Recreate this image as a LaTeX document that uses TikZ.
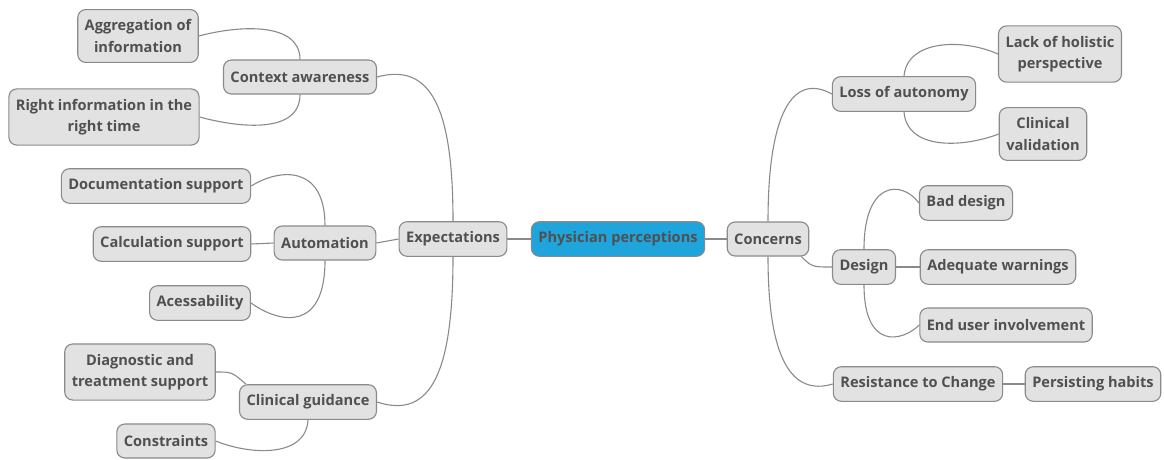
\documentclass[tikz,border=0pt]{standalone}
\usepackage{fontspec}
\setmainfont{Open Sans}
\definecolor{boxfill}{HTML}{E2E2E2}
\definecolor{boxline}{HTML}{8A8A8A}
\definecolor{txt}{HTML}{505050}
\definecolor{rootfill}{HTML}{1FA5DB}
\definecolor{wire}{HTML}{8A8A8A}
\begin{document}
\begin{tikzpicture}[x=1pt,y=-1pt,
  box/.style={draw=boxline, fill=boxfill, line width=1.1pt, rounded corners=8pt,
    minimum height=34pt, inner xsep=7pt, inner ysep=10pt, align=center,
    text=txt, font=\fontsize{14.6}{21.5}\selectfont\bfseries},
  rootbox/.style={box, fill=rootfill},
  wire/.style={draw=wire, line width=1.1pt}]
\useasboundingbox (0,0) rectangle (1164,459);

\node[rootbox] (pp) at (618,239) {Physician perceptions};
\node[box] (exp) at (453,239) {Expectations};
\node[box] (conc) at (768,239) {Concerns};

\node[box] (ca) at (300,77) {Context awareness};
\node[box] (agg) at (138,36) {Aggregation of\\information};
\node[box] (ri) at (104,117) {Right information in the\\right time};

\node[box] (auto) at (325,243) {Automation};
\node[box] (doc) at (156,186) {Documentation support};
\node[box] (calc) at (172,244) {Calculation support};
\node[box] (acc) at (200,303) {Acessability};

\node[box] (cg) at (308,402) {Clinical guidance};
\node[box] (diag) at (140,372) {Diagnostic and\\treatment support};
\node[box] (con) at (166,441) {Constraints};

\node[box] (loss) at (904,94) {Loss of autonomy};
\node[box] (lack) at (1060,54) {Lack of holistic\\perspective};
\node[box] (cv) at (1043,134) {Clinical\\validation};

\node[box] (des) at (864,267) {Design};
\node[box] (bad) at (966,203) {Bad design};
\node[box] (adq) at (998,267) {Adequate warnings};
\node[box] (end) at (1006,325) {End user involvement};

\node[box] (res) at (918,384) {Resistance to Change};
\node[box] (hab) at (1093,384) {Persisting habits};

% connectors
\path[wire] (pp.west) -- (exp.east);
\path[wire] (pp.east) -- (conc.west);

\path[wire] (exp.north) .. controls (453,110) and (432,62) .. (ca.east);
\path[wire] (exp.west) -- (auto.east);
\path[wire] (exp.south) .. controls (453,370) and (432,420) .. (cg.east);

\path[wire] (ca.north) .. controls (300,22) and (240,25) .. (agg.east);
\path[wire] (ca.south) .. controls (300,134) and (240,128) .. (ri.east);

\path[wire] (auto.north) .. controls (325,165) and (280,168) .. (doc.east);
\path[wire] (auto.west) -- (calc.east);
\path[wire] (auto.south) .. controls (325,330) and (282,325) .. (acc.east);

\path[wire] (diag.east) .. controls (232,372) .. ([xshift=7pt]cg.north west);
\path[wire] (cg.south) .. controls (306,458) and (250,455) .. (con.east);

\path[wire] (conc.north) .. controls (768,115) and (792,72) .. (loss.west);
\path[wire] ([xshift=-8pt]conc.south east) .. controls (812,267) .. (des.west);
\path[wire] (conc.south) .. controls (768,360) and (792,396) .. (res.west);

\path[wire] (loss.north) .. controls (907,40) and (962,38) .. (lack.west);
\path[wire] (loss.south) .. controls (907,150) and (962,148) .. (cv.west);

\path[wire] (des.north) .. controls (864,180) and (902,180) .. (bad.west);
\path[wire] (des.east) -- (adq.west);
\path[wire] (des.south) .. controls (864,350) and (902,342) .. (end.west);

\path[wire] (res.east) -- (hab.west);
\end{tikzpicture}
\end{document}
